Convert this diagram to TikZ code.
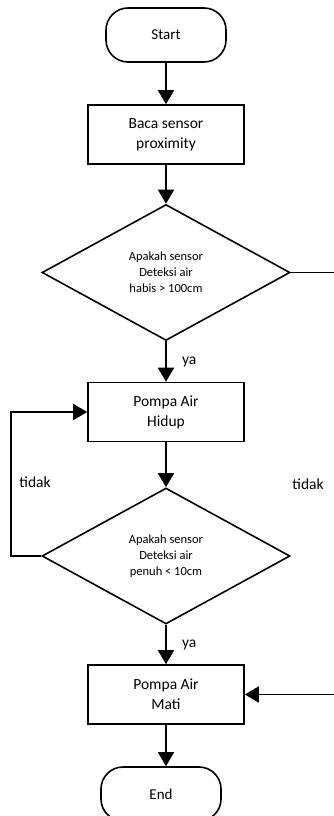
\documentclass[tikz,border=0pt]{standalone}
\usepackage{fontspec}
\setmainfont{Carlito}
\usetikzlibrary{shapes,arrows.meta}

\begin{document}
\begin{tikzpicture}[x=1pt,y=-1pt,line width=1.6pt,>={Triangle[length=14pt,width=16pt]}]
  \useasboundingbox (0,0) rectangle (334,816);

  \tikzstyle{every node}=[align=center]
  \tikzstyle{terminal}=[draw,rectangle,rounded corners=22pt,minimum width=120pt,minimum height=54pt,font=\fontsize{15}{20}\selectfont]
  \tikzstyle{proses}=[draw,rectangle,minimum width=156pt,minimum height=59pt,font=\fontsize{15.5}{20}\selectfont]
  \tikzstyle{keputusan}=[draw,diamond,minimum width=248pt,minimum height=136pt,inner sep=0pt,font=\fontsize{12.5}{16}\selectfont]
  \tikzstyle{label}=[font=\fontsize{15.5}{20}\selectfont]

  \node[terminal] (start) at (166,35) {Start};
  \node[proses] (baca) at (166,134.5)
    {Baca sensor \\ proximity};
  \node[keputusan] (d1) at (166,272.5)
    {Apakah sensor \\ Deteksi air \\ habis > 100cm};
  \node[proses] (hidup) at (166,412)
    {Pompa Air \\ Hidup};
  \node[keputusan] (d2) at (166,556)
    {Apakah sensor \\ Deteksi air \\ penuh < 10cm};
  \node[proses] (mati) at (166,694.5)
    {Pompa Air \\ Mati};
  \node[terminal] (end) at (161,794) {End};

  \coordinate (ujung1) at (334,272.5);
  \coordinate (ujung2) at (334,694.5);

  \foreach \from/\to in {start/baca,baca/d1,hidup/d2,mati/end}
    \draw[->] (\from.south) -- (\from.south |- \to.north);

  \draw[->] (d1.south) -- (hidup.north) node [label, midway, right=12pt] (ya1) {ya};
  \draw[->] (d2.south) -- (mati.north) node [label, midway, right=12pt] (ya2) {ya};

  \draw[->] (d2.west) -- ++(-30,0) |- (hidup.west);
  \draw (d1.east) -- (ujung1);
  \draw[->] (ujung2) -- (mati.east);

  \node[label] (tidak1) at (35,482) {tidak};
  \node[label] (tidak2) at (308,484) {tidak};

\end{tikzpicture}
\end{document}
